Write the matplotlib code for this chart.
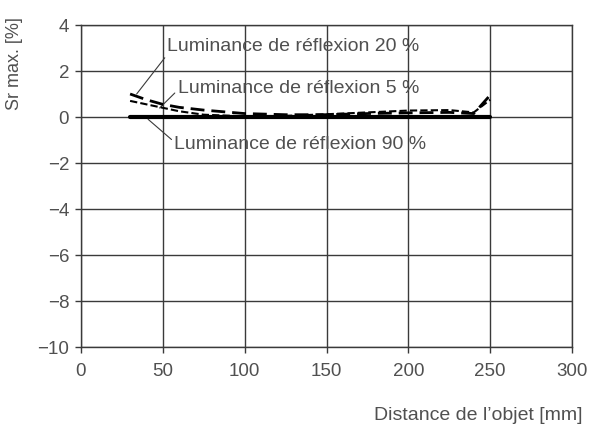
import numpy as np
import matplotlib.pyplot as plt

# Données
distance = [30, 40, 50, 60, 75, 100, 125, 150, 175, 200, 225, 240, 250]
lum_20 = [1.0, 0.75, 0.55, 0.42, 0.3, 0.15, 0.1, 0.1, 0.15, 0.18, 0.2, 0.15, 0.95]
lum_5 = [0.7, 0.55, 0.4, 0.25, 0.1, 0.03, 0.05, 0.12, 0.2, 0.28, 0.3, 0.2, 0.75]
lum_90 = [0, 0, 0, 0, 0, 0, 0, 0, 0, 0, 0, 0, 0]

x_ticks = [0, 50, 100, 150, 200, 250, 300]
y_ticks = [4, 2, 0, -2, -4, -6, -8, -10]

plt.rcParams['font.family'] = ['Liberation Sans', 'DejaVu Sans']
gris = '#3a3a3a'
texte = '#505050'

fig = plt.figure(figsize=(5.93, 4.32), dpi=100)
ax = fig.add_axes([81 / 593, 1 - 347 / 432, 491 / 593, 322 / 432])

ax.plot(distance, lum_90, color='black', lw=3.0, solid_capstyle='round', zorder=3)
ax.plot(distance, lum_20, color='black', lw=2.0, dashes=(5, 2.5), zorder=4)
ax.plot(distance, lum_5, color='black', lw=1.5, dashes=(3.5, 1.5), zorder=4)

ax.set_xlim(0, 300)
ax.set_ylim(-10, 4)
ax.set_xticks(x_ticks)
ax.set_yticks(y_ticks)
ax.set_yticklabels([str(v).replace('-', '\u2212') for v in y_ticks])
ax.grid(True, color=gris, lw=1.0)
ax.set_axisbelow(True)
for s in ax.spines.values():
    s.set_color(gris)
    s.set_linewidth(1.0)
ax.tick_params(colors=gris, labelcolor=texte, labelsize=13.5, length=4.5, width=1.0)
ax.tick_params(axis='x', pad=7)
ax.tick_params(axis='y', pad=4)

fleche = dict(arrowstyle='-', color=gris, lw=0.8, shrinkA=0, shrinkB=0)
ax.annotate('Luminance de réflexion 20 %', xy=(34, 1.0), xytext=(52.5, 2.87),
            fontsize=14, color=texte, va='baseline', ha='left',
            arrowprops=dict(fleche, relpos=(0, 0)))
ax.annotate('Luminance de réflexion 5 %', xy=(48, 0.39), xytext=(59, 1.04),
            fontsize=14, color=texte, va='baseline', ha='left',
            arrowprops=dict(fleche, relpos=(0, 0.4)))
ax.annotate('Luminance de réflexion 90 %', xy=(41, -0.1), xytext=(57, -1.39),
            fontsize=14, color=texte, va='baseline', ha='left',
            arrowprops=dict(fleche, relpos=(0, 0.65)))

fig.text(15 / 593, 1 - 17 / 432, 'Sr max. [%]', rotation=90, ha='center', va='top',
         fontsize=13, color=texte)
fig.text(582 / 593, 1 - 415 / 432, 'Distance de l\u2019objet [mm]', ha='right', va='center',
         fontsize=14, color=texte)

fig.savefig('out.png', dpi=100)
